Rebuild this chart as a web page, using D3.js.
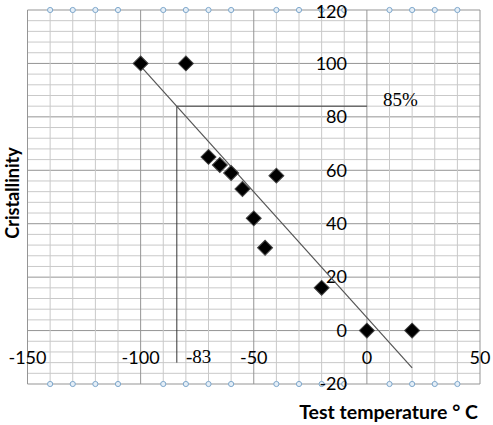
<!DOCTYPE html>
<html><head><meta charset="utf-8">
<script src="https://cdn.jsdelivr.net/npm/d3@7/dist/d3.min.js"></script>
<style>body{margin:0;background:#fff}svg{display:block}</style>
</head><body>
<svg id="c" width="493" height="425"></svg>
<script>
// data
const tempValues = [-100, -80, -70, -65, -60, -55, -40, -50, -45, -20, 0, 20];
const crystValues = [100, 100, 65, 62, 59, 53, 58, 42, 31, 16, 0, 0];
const trendX = [-100, 20];
const trendY = [99, -14];
const refX = -84, refY = 84;
const xTicks = [-150, -100, -50, 0, 50];
const yTicks = [120, 100, 80, 60, 40, 20, 0, -20];
const refXLabel = "-83", refYLabel = "85%";

const svg = d3.select("#c");
const L = 27.5, R = 480, T = 10, B = 384;
const x = d3.scaleLinear().domain([-150, 50]).range([L, R]);
const y = d3.scaleLinear().domain([-20, 120]).range([B, T]);

const g = svg.append("g");
d3.range(-20, 121, 4).forEach(v => {
  g.append("line").attr("x1", L).attr("x2", R).attr("y1", y(v)).attr("y2", y(v))
   .attr("stroke", v % 20 === 0 ? "#959595" : "#c9c9c9").attr("stroke-width", 1);
});
d3.range(-150, 51, 10).forEach(v => {
  g.append("line").attr("y1", T).attr("y2", B).attr("x1", x(v)).attr("x2", x(v))
   .attr("stroke", v % 50 === 0 ? "#959595" : "#c9c9c9").attr("stroke-width", 1);
});

const dotVals = d3.range(-140, 50, 10).filter(v => v % 50 !== 0);
[T, B].forEach(yy => {
  g.selectAll(null).data(dotVals).enter().append("circle")
   .attr("cx", d => x(d)).attr("cy", yy).attr("r", 2.6)
   .attr("fill", "#e4eef7").attr("stroke", "#7fa8cc").attr("stroke-width", 1);
});

const font = "Lato, 'Open Sans', sans-serif";
const serif = "'Liberation Serif', 'Times New Roman', serif";
svg.selectAll(null).data(yTicks).enter().append("text")
  .attr("x", 347).attr("y", d => Math.max(y(d), 12)).attr("dy", "0.35em")
  .attr("text-anchor", "end").attr("font-family", font).attr("font-size", 18)
  .attr("fill", "#000").text(d => d);
svg.selectAll(null).data(xTicks).enter().append("text")
  .attr("x", d => x(d)).attr("y", y(-10)).attr("dy", "0.35em")
  .attr("text-anchor", "middle").attr("font-family", font).attr("font-size", 18)
  .attr("fill", "#000").text(d => d);

svg.append("line").attr("x1", x(refX)).attr("x2", x(0)).attr("y1", y(refY)).attr("y2", y(refY))
  .attr("stroke", "#333").attr("stroke-width", 1);
svg.append("line").attr("x1", x(refX)).attr("x2", x(refX)).attr("y1", y(refY)).attr("y2", y(-12))
  .attr("stroke", "#333").attr("stroke-width", 1);

svg.append("line").attr("x1", x(trendX[0])).attr("y1", y(trendY[0]))
  .attr("x2", x(trendX[1])).attr("y2", y(trendY[1]))
  .attr("stroke", "#555").attr("stroke-width", 1.2);

const dia = d3.symbol().type(d3.symbolSquare).size(112);
const pts = tempValues.map((t, i) => ({t, c: crystValues[i]}));
svg.selectAll(null).data(pts).enter().append("path")
  .attr("d", dia)
  .attr("transform", d => `translate(${x(d.t)},${y(d.c)}) rotate(45)`)
  .attr("fill", "#000").attr("stroke", "#444").attr("stroke-width", 1);

svg.append("text").attr("x", 383).attr("y", y(refY) - 6.5).attr("dy", "0.35em")
  .style("font-family", serif).attr("font-size", 19).text(refYLabel);
svg.append("text").attr("x", 186).attr("y", 356.5).attr("dy", "0.35em")
  .style("font-family", serif).attr("font-size", 19).text(refXLabel);

svg.append("text").attr("x", 478).attr("y", 412).attr("dy", "0.35em")
  .attr("text-anchor", "end").attr("font-family", font).attr("font-weight", "bold")
  .attr("font-size", 19.5).text("Test temperature ° C");
svg.append("text").attr("transform", "translate(13,193) rotate(-90)").attr("dy", "0.35em")
  .attr("text-anchor", "middle").attr("font-family", font).attr("font-weight", "bold")
  .attr("font-size", 18).text("Cristallinity");
</script>
</body></html>
